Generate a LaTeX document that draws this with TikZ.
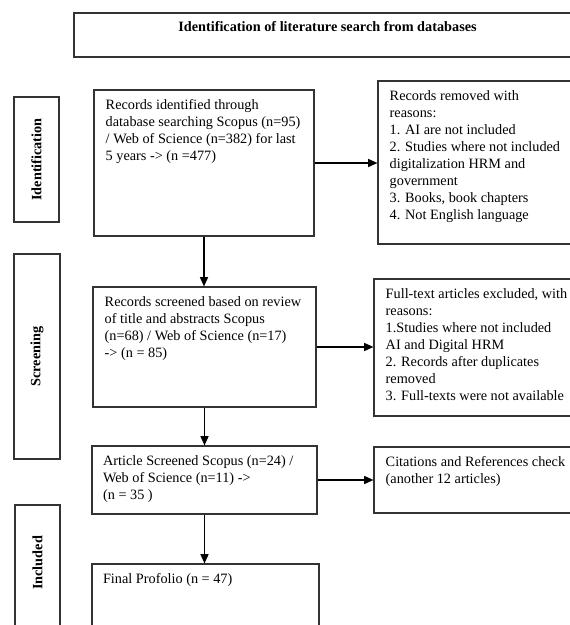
\documentclass[tikz,border=0pt]{standalone}
\usepackage{fontspec}
\setmainfont{Liberation Serif}
\usetikzlibrary{arrows.meta, fit, positioning}
\newcommand{\fs}{\fontsize{10.7}{12.75}\selectfont}
\tikzset{
  frame/.style ={rectangle, draw=black!80, line width=0.8pt, inner sep=0pt},
  txt/.style   ={anchor=north west, align=left, inner xsep=9pt, inner ysep=7.5pt,
                 font=\fs},
  side/.style  ={rotate=90, font=\fs\bfseries},
  flow/.style  ={-{Triangle[length=7pt,width=6pt]}, line width=1.1pt},
}

\begin{document}
\begin{tikzpicture}[x=0.75pt, y=-0.75pt]
  \useasboundingbox (0,0) rectangle (570,625);

  % header
  \node[frame, fit={(74,13) (581,57)}] (head) {};
  \node[font=\fs\bfseries, anchor=base] (headt) at (327.5,31.5)
       {Identification of literature search from databases};

  % phase labels
  \node[frame, fit={(14,97) (59,222)}]  (idf) {};
  \node[side] (idft) at (idf.center) {Identification};
  \node[frame, fit={(14,254) (60,459)}] (scr) {};
  \node[side] (scrt) at (scr.center) {Screening};
  \node[frame, fit={(15,505) (60,630)}] (inc) {};
  \node[side] (inct) at (37.5,563) {Included};

  % main column
  \node[frame, fit={(94,90) (314,236)}]   (found) {};
  \node[txt] (foundt) at (found.north west)
       {Records identified through\\database searching Scopus (n=95)\\/ Web of Science (n=382) for last\\5 years -> (n =477)};
  \node[frame, fit={(93,287) (316,407)}]  (screen) {};
  \node[txt] (screent) at (screen.north west)
       {Records screened based on review\\of title and abstracts Scopus\\(n=68) / Web of Science (n=17)\\-> (n = 85)};
  \node[frame, fit={(92,446) (317,514)}]  (article) {};
  \node[txt, inner xsep=8.5pt] (articlet) at (article.north west)
       {Article Screened Scopus (n=24) /\\Web of Science (n=11) ->\\(n = 35 )};
  \node[frame, fit={(92,564) (319,632)}]  (final) {};
  \node[txt, inner xsep=8.5pt] (finalt) at (final.north west)
       {Final Profolio (n = 47)};

  % side column
  \node[frame, fit={(378,81) (580,244)}]  (removed) {};
  \node[txt] (removedt) at (removed.north west)
       {Records removed with\\reasons:\\1. AI are not included\\2. Studies where not included\\digitalization HRM and\\government\\3. Books, book chapters\\4. Not English language};
  \node[frame, fit={(374,279) (580,416)}] (excl) {};
  \node[txt] (exclt) at (excl.north west)
       {Full-text articles excluded, with\\reasons:\\1.Studies where not included\\AI and Digital HRM\\2. Records after duplicates\\removed\\3. Full-texts were not available};
  \node[frame, fit={(374,447) (580,513)}] (cite) {};
  \node[txt] (citet) at (cite.north west)
       {Citations and References check\\(another 12 articles)};

  % connectors
  \draw[flow] (found.south)   -- (found.south |- screen.north);
  \draw[flow] (screen.south)  -- (screen.south |- article.north);
  \draw[flow] (article.south) -- (article.south |- final.north);
  \draw[flow] (found.east)    -- (found.east -| removed.west);
  \draw[flow] (screen.east)   -- (screen.east -| excl.west);
  \draw[flow] (article.east)  -- (article.east -| cite.west);

\end{tikzpicture}
\end{document}
